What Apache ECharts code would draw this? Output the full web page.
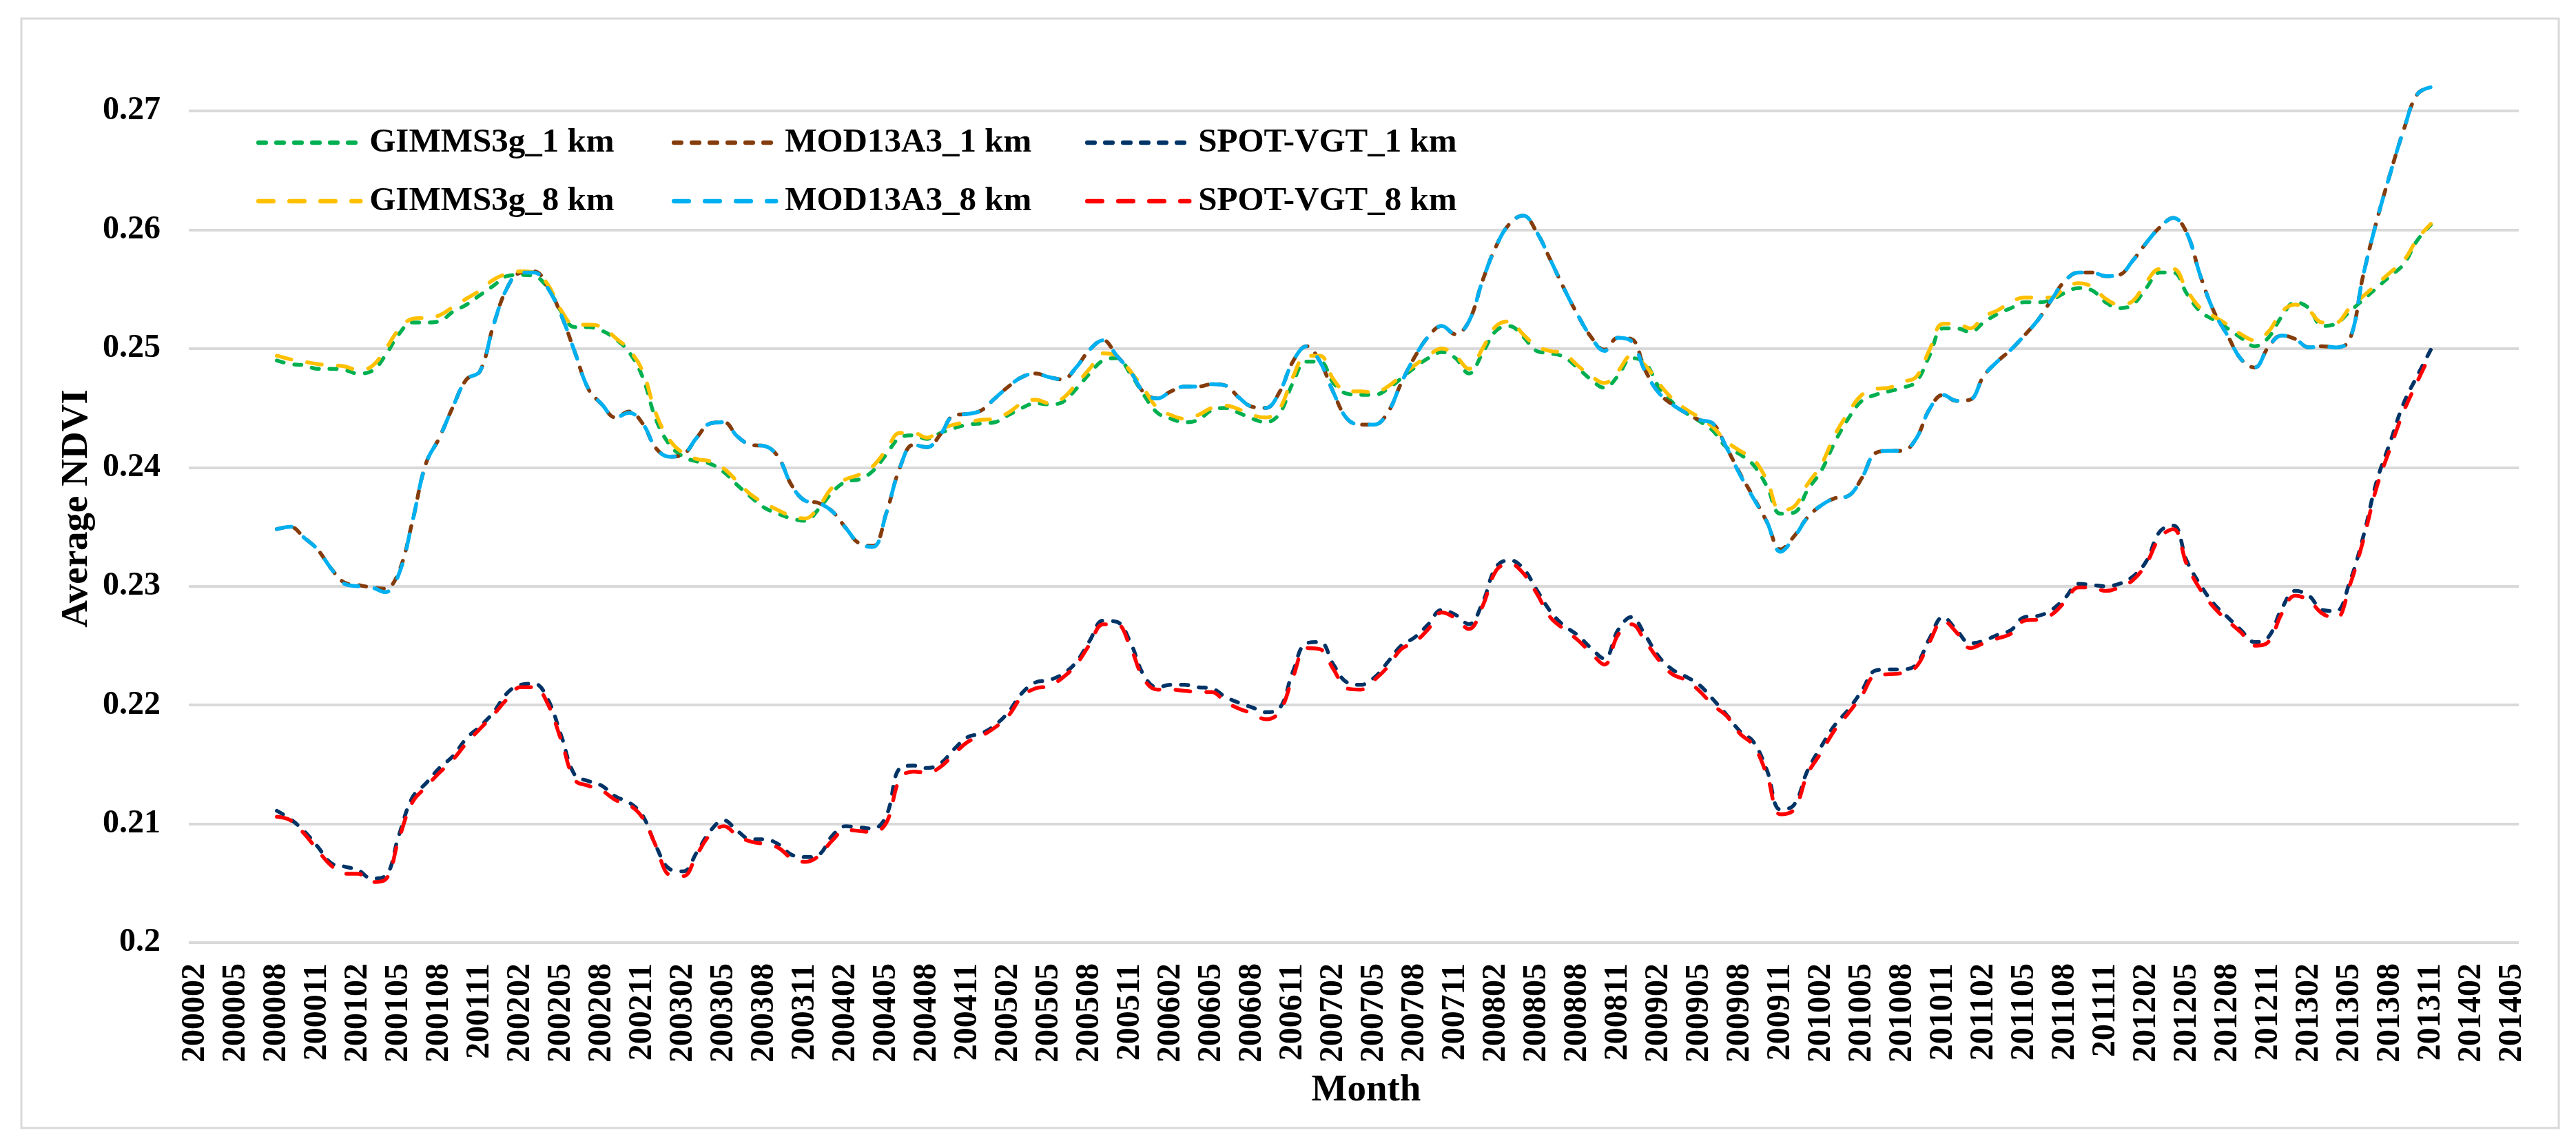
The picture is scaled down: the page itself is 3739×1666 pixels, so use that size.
<!DOCTYPE html>
<html>
<head>
<meta charset="utf-8">
<script src="https://cdn.jsdelivr.net/npm/echarts@6/dist/echarts.min.js"></script>
<style>
html,body{margin:0;padding:0;background:#fff;}
#chart{width:3739px;height:1666px;}
</style>
</head>
<body>
<div id="chart"></div>
<script>
// Category axis: months 200002 .. 201405
var firstYear = 2000, firstMonth = 2, lastYear = 2014, lastMonth = 5;
var months = [];
(function(){
  var y = firstYear, m = firstMonth;
  while (y < lastYear || (y === lastYear && m <= lastMonth)) {
    months.push(String(y) + (m < 10 ? '0' + m : String(m)));
    m++; if (m > 12) { m = 1; y++; }
  }
})();
// data begins at 200008 and ends at 201311
var dataStart = '200008';

var gimms1km = [
.2490,.2487,.2486,.2483,.2483,.2482,.2479,.2481,.2494,.2512,
.2522,.2522,.2523,.2531,.2537,.2545,.2553,.2561,.2562,.2561,
.2551,.2531,.2518,.2518,.2515,.2508,.2497,.2476,.2440,.2419,
.2409,.2405,.2403,.2396,.2385,.2375,.2366,.2361,.2357,.2355,
.2365,.2379,.2388,.2390,.2397,.2411,.2425,.2427,.2424,.2429,
.2433,.2436,.2437,.2438,.2444,.2450,.2454,.2453,.2455,.2466,
.2479,.2490,.2492,.2479,.2461,.2446,.2441,.2438,.2440,.2448,
.2450,.2446,.2441,.2438,.2445,.2471,.2489,.2489,.2471,.2462,
.2461,.2461,.2466,.2475,.2484,.2492,.2497,.2492,.2479,.2496,
.2515,.2519,.2510,.2498,.2496,.2493,.2484,.2474,.2467,.2477,
.2492,.2488,.2468,.2455,.2446,.2439,.2431,.2417,.2411,.2402,
.2384,.2361,.2362,.2381,.2397,.2421,.2441,.2456,.2461,.2464,
.2467,.2472,.2494,.2517,.2517,.2514,.2522,.2529,.2534,.2539,
.2539,.2541,.2547,.2551,.2549,.2539,.2534,.2537,.2551,.2564,
.2564,.2546,.2531,.2524,.2517,.2509,.2502,.2509,.2527,.2539,
.2534,.2519,.2521,.2531,.2541,.2551,.2561,.2571,.2591,.2604];

var mod1km = [
.2348,.2350,.2341,.2331,.2315,.2303,.2301,.2299,.2298,.2312,
.2354,.2403,.2425,.2451,.2474,.2481,.2520,.2551,.2564,.2565,
.2552,.2528,.2497,.2466,.2453,.2442,.2447,.2437,.2416,.2409,
.2411,.2425,.2437,.2438,.2426,.2419,.2418,.2409,.2385,.2372,
.2370,.2363,.2349,.2336,.2334,.2362,.2400,.2419,.2417,.2428,
.2444,.2445,.2448,.2458,.2468,.2476,.2479,.2476,.2474,.2484,
.2499,.2507,.2494,.2481,.2463,.2458,.2464,.2468,.2468,.2470,
.2469,.2459,.2451,.2450,.2463,.2489,.2502,.2489,.2463,.2441,
.2436,.2436,.2446,.2471,.2493,.2510,.2519,.2512,.2523,.2557,
.2586,.2605,.2612,.2598,.2575,.2551,.2529,.2510,.2499,.2509,
.2508,.2482,.2463,.2453,.2446,.2440,.2437,.2417,.2395,.2375,
.2354,.2331,.2342,.2358,.2368,.2374,.2376,.2391,.2412,.2414,
.2414,.2424,.2449,.2461,.2456,.2457,.2477,.2489,.2499,.2511,
.2524,.2541,.2557,.2564,.2564,.2561,.2562,.2574,.2589,.2602,
.2610,.2597,.2561,.2531,.2511,.2491,.2484,.2501,.2511,.2508,
.2501,.2502,.2501,.2507,.2561,.2607,.2647,.2684,.2714,.2720];

var spot1km = [
.2111,.2104,.2094,.2081,.2067,.2064,.2061,.2054,.2056,.2090,
.2122,.2134,.2147,.2157,.2172,.2182,.2194,.2210,.2217,.2218,
.2205,.2174,.2141,.2136,.2132,.2123,.2118,.2107,.2081,.2062,
.2060,.2076,.2094,.2103,.2094,.2087,.2087,.2083,.2074,.2072,
.2074,.2090,.2098,.2097,.2096,.2107,.2147,.2149,.2147,.2151,
.2163,.2173,.2176,.2183,.2194,.2210,.2219,.2221,.2226,.2236,
.2254,.2271,.2270,.2253,.2225,.2215,.2217,.2217,.2215,.2214,
.2207,.2202,.2198,.2194,.2197,.2228,.2252,.2253,.2234,.2219,
.2217,.2223,.2236,.2250,.2257,.2268,.2280,.2276,.2268,.2286,
.2316,.2322,.2315,.2297,.2279,.2267,.2259,.2248,.2239,.2263,
.2274,.2259,.2241,.2230,.2224,.2217,.2205,.2192,.2178,.2169,
.2145,.2112,.2116,.2145,.2165,.2183,.2196,.2212,.2229,.2230,
.2230,.2234,.2256,.2274,.2263,.2252,.2254,.2259,.2263,.2274,
.2275,.2280,.2290,.2302,.2301,.2300,.2302,.2308,.2321,.2346,
.2351,.2321,.2301,.2285,.2274,.2263,.2253,.2257,.2281,.2296,
.2292,.2280,.2279,.2303,.2341,.2388,.2421,.2454,.2477,.2499];

var gimms8km = [
.2494,.2491,.2489,.2487,.2486,.2485,.2482,.2485,.2499,.2516,
.2525,.2526,.2528,.2535,.2542,.2549,.2558,.2563,.2565,.2564,
.2554,.2532,.2520,.2520,.2518,.2509,.2499,.2481,.2445,.2423,
.2412,.2407,.2405,.2399,.2388,.2377,.2370,.2364,.2359,.2357,
.2367,.2383,.2390,.2394,.2401,.2415,.2429,.2429,.2425,.2432,
.2436,.2438,.2440,.2441,.2446,.2454,.2457,.2454,.2458,.2470,
.2483,.2496,.2494,.2481,.2466,.2450,.2444,.2441,.2444,.2450,
.2452,.2449,.2444,.2442,.2449,.2476,.2494,.2494,.2474,.2464,
.2464,.2463,.2468,.2477,.2486,.2494,.2500,.2494,.2483,.2500,
.2519,.2523,.2512,.2502,.2498,.2496,.2486,.2477,.2471,.2481,
.2494,.2486,.2471,.2458,.2449,.2442,.2434,.2422,.2414,.2407,
.2389,.2364,.2367,.2386,.2402,.2427,.2446,.2461,.2466,.2467,
.2472,.2476,.2499,.2521,.2521,.2517,.2527,.2532,.2539,.2543,
.2543,.2543,.2551,.2555,.2552,.2542,.2537,.2540,.2556,.2567,
.2567,.2549,.2534,.2527,.2520,.2512,.2507,.2514,.2531,.2537,
.2532,.2522,.2522,.2534,.2544,.2554,.2564,.2574,.2592,.2605];

var mod8km = [
.2348,.2350,.2341,.2331,.2315,.2302,.2300,.2299,.2295,.2310,
.2354,.2403,.2425,.2451,.2474,.2481,.2520,.2551,.2564,.2564,
.2551,.2528,.2497,.2466,.2453,.2442,.2446,.2437,.2416,.2409,
.2411,.2425,.2437,.2438,.2426,.2419,.2418,.2409,.2385,.2372,
.2370,.2363,.2349,.2336,.2333,.2362,.2400,.2419,.2417,.2428,
.2444,.2445,.2448,.2458,.2468,.2476,.2479,.2476,.2474,.2484,
.2499,.2507,.2494,.2481,.2463,.2458,.2464,.2468,.2468,.2470,
.2469,.2459,.2451,.2450,.2463,.2489,.2502,.2489,.2463,.2441,
.2436,.2436,.2446,.2471,.2493,.2510,.2519,.2512,.2523,.2557,
.2586,.2605,.2612,.2598,.2575,.2551,.2529,.2510,.2498,.2509,
.2506,.2481,.2463,.2453,.2446,.2440,.2437,.2417,.2394,.2374,
.2354,.2329,.2341,.2358,.2368,.2374,.2376,.2391,.2412,.2414,
.2414,.2424,.2449,.2461,.2456,.2457,.2477,.2489,.2499,.2511,
.2524,.2541,.2557,.2564,.2564,.2561,.2562,.2574,.2589,.2602,
.2610,.2597,.2561,.2531,.2511,.2491,.2484,.2501,.2511,.2508,
.2501,.2502,.2501,.2507,.2561,.2607,.2647,.2684,.2714,.2720];

var spot8km = [
.2106,.2103,.2092,.2078,.2065,.2058,.2058,.2051,.2053,.2087,
.2118,.2131,.2143,.2154,.2168,.2180,.2192,.2205,.2215,.2215,
.2201,.2170,.2137,.2132,.2128,.2120,.2116,.2105,.2081,.2057,
.2056,.2074,.2091,.2098,.2090,.2085,.2083,.2080,.2071,.2068,
.2073,.2086,.2095,.2094,.2093,.2101,.2138,.2144,.2143,.2148,
.2159,.2169,.2174,.2181,.2191,.2207,.2214,.2216,.2223,.2234,
.2251,.2268,.2268,.2249,.2222,.2213,.2213,.2212,.2211,.2211,
.2203,.2197,.2193,.2188,.2194,.2223,.2248,.2247,.2230,.2214,
.2213,.2221,.2232,.2247,.2253,.2264,.2278,.2273,.2264,.2283,
.2313,.2319,.2311,.2294,.2274,.2264,.2255,.2244,.2234,.2259,
.2268,.2254,.2238,.2226,.2221,.2212,.2200,.2191,.2176,.2166,
.2141,.2108,.2112,.2142,.2160,.2179,.2193,.2208,.2225,.2226,
.2227,.2232,.2253,.2271,.2261,.2248,.2252,.2256,.2260,.2271,
.2272,.2276,.2287,.2299,.2299,.2296,.2299,.2305,.2319,.2341,
.2348,.2318,.2297,.2282,.2271,.2261,.2250,.2253,.2277,.2292,
.2288,.2277,.2273,.2300,.2338,.2383,.2416,.2447,.2472,.2496];

var seriesNames = ['GIMMS3g_1 km','MOD13A3_1 km','SPOT-VGT_1 km','GIMMS3g_8 km','MOD13A3_8 km','SPOT-VGT_8 km'];
var seriesValues = [gimms1km, mod1km, spot1km, gimms8km, mod8km, spot8km];
var seriesColors = ['#00B050','#843C0C','#003366','#FFC000','#00B0F0','#FF0000'];
var yTicks = [0.2, 0.21, 0.22, 0.23, 0.24, 0.25, 0.26, 0.27];

function pad(values) {
  var out = [];
  var startIdx = months.indexOf(dataStart);
  for (var i = 0; i < months.length; i++) {
    var k = i - startIdx;
    out.push(k >= 0 && k < values.length ? values[k] : null);
  }
  return out;
}

var FONT = 'Liberation Serif';
var W = 5.5;
var dash1 = [10.5, 15.5];
var dash8 = [21.5, 23.5];

function lineStyleFor(i, width) {
  return { color: seriesColors[i], width: width, type: i < 3 ? dash1 : dash8, cap: 'round' };
}

var series = seriesNames.map(function(name, i){
  return {
    name: name,
    type: 'line',
    data: pad(seriesValues[i]),
    smooth: 0.4,
    symbol: 'none',
    showSymbol: false,
    connectNulls: false,
    clip: false,
    lineStyle: lineStyleFor(i, W),
    itemStyle: { color: seriesColors[i] },
    z: 2 + i
  };
});

function legendAt(left, idxA, idxB) {
  return {
    orient: 'vertical',
    left: left,
    top: 177,
    itemWidth: 148,
    itemHeight: 14,
    itemGap: 35,
    selectedMode: false,
    itemStyle: { color: 'rgba(0,0,0,0)', borderWidth: 0, opacity: 0 },
    data: [
      { name: seriesNames[idxA], lineStyle: lineStyleFor(idxA, 6.5), itemStyle: { color: 'rgba(0,0,0,0)', borderWidth: 0, opacity: 0 } },
      { name: seriesNames[idxB], lineStyle: lineStyleFor(idxB, 6.5), itemStyle: { color: 'rgba(0,0,0,0)', borderWidth: 0, opacity: 0 } }
    ],
    textStyle: { fontFamily: FONT, fontWeight: 'bold', fontSize: 49, color: '#000', lineHeight: 50, padding: [0,0,0,8] }
  };
}

var chart = echarts.init(document.getElementById('chart'), null, { renderer: 'canvas' });
chart.setOption({
  animation: false,
  backgroundColor: '#fff',
  grid: { left: 274, right: 83, top: 161, bottom: 298, containLabel: false },
  legend: [
    legendAt(367, 0, 3),
    legendAt(970, 1, 4),
    legendAt(1570, 2, 5)
  ],
  xAxis: {
    type: 'category',
    data: months,
    boundaryGap: true,
    axisLine: { show: false },
    axisTick: { show: false },
    axisLabel: { interval: 2, rotate: 90, margin: 30, fontFamily: FONT, fontWeight: 'bold', fontSize: 48, color: '#000' },
    splitLine: { show: false }
  },
  yAxis: {
    type: 'value',
    min: yTicks[0],
    max: yTicks[yTicks.length - 1],
    interval: 0.01,
    axisLine: { show: false },
    axisTick: { show: false },
    axisLabel: { margin: 41, fontFamily: FONT, fontWeight: 'bold', fontSize: 48, color: '#000',
      formatter: function(v){ return String(Math.round(v * 1000) / 1000); } },
    splitLine: { show: true, lineStyle: { color: '#D9D9D9', width: 4 } }
  },
  graphic: [
    { type: 'rect', silent: true, z: -10, shape: { x: 31, y: 27, width: 3683, height: 1610 },
      style: { fill: 'none', stroke: '#D9D9D9', lineWidth: 3 } },
    { type: 'text', silent: true, x: 112, y: 738, rotation: Math.PI / 2,
      style: { text: 'Average NDVI', fontFamily: FONT, fontWeight: 'bold', fontSize: 55, fill: '#000', align: 'center', verticalAlign: 'middle' } },
    { type: 'text', silent: true, x: 1983, y: 1583,
      style: { text: 'Month', fontFamily: FONT, fontWeight: 'bold', fontSize: 55, fill: '#000', align: 'center', verticalAlign: 'middle' } }
  ],
  series: series
});
</script>
</body>
</html>
